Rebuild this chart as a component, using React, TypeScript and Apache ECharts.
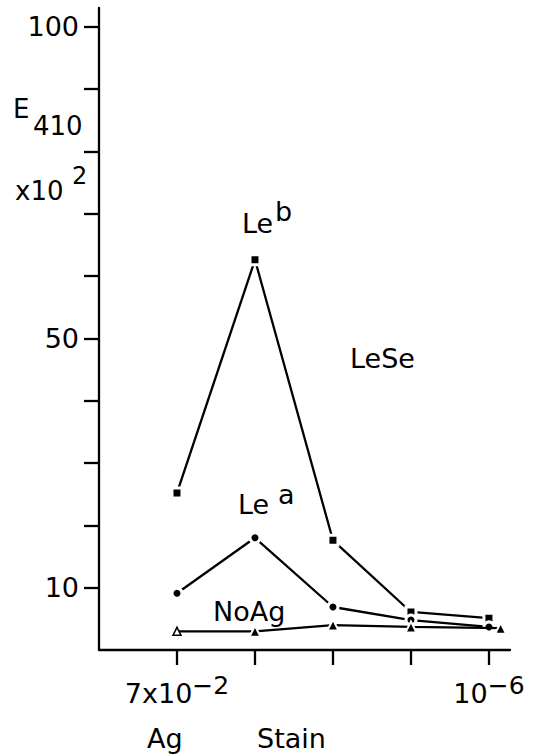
import React, { useEffect, useRef } from "react";
import * as echarts from "echarts";

// ---- data ----
const dilutionIndex = [1, 2, 3, 4, 5];
const lebValues = [25.2, 62.6, 17.6, 6.1, 5.1];
const leaValues = [9.1, 18.0, 6.9, 4.8, 3.7];
const noAgIndex = [1, 2, 3, 4, 5.15];
const noAgValues = [3.0, 3.0, 4.0, 3.7, 3.5];
const yTickValues = [10, 20, 30, 40, 50, 60, 70, 80, 90, 100];
const yLabelValues = [10, 50, 100];
const xTickValues = [1, 2, 3, 4, 5];
const xLabelValues = [1, 5];
const xLabelBase = ["7x10", "10"];
const xLabelExp = ["\u22122", "\u22126"];

const FONT = "'DejaVu Sans', 'Liberation Sans', Arial, sans-serif";

function pairs(xs: number[], ys: number[]) {
  return xs.map((x, i) => [x, ys[i]]);
}

function txt(text: string, x: number, y: number, size = 27) {
  return {
    type: "text",
    x,
    y,
    style: {
      text,
      fill: "#000",
      font: `${size}px ${FONT}`,
      fontSize: size,
      fontFamily: FONT,
      textAlign: "left",
      textVerticalAlign: "middle",
    },
  };
}

export default function App() {
  const ref = useRef<HTMLDivElement>(null);
  useEffect(() => {
    if (!ref.current) return;
    const chart = echarts.init(ref.current, null, { renderer: "svg" });
    const black = "#000";
    const lw = 2.3;
    const option: any = {
      animation: false,
      backgroundColor: "#fff",
      textStyle: { fontFamily: FONT },
      grid: {
        left: 99,
        top: 8,
        right: 31,
        bottom: 105,
        containLabel: false,
        outerBoundsMode: "none",
      },
      xAxis: {
        type: "value",
        min: 0,
        max: 5.27,
        splitLine: { show: false },
        axisLine: { show: true, onZero: false, lineStyle: { color: black, width: lw } },
        axisTick: {
          show: true,
          customValues: xTickValues,
          length: 15,
          lineStyle: { color: black, width: lw },
        },
        axisLabel: {
          show: true,
          customValues: xLabelValues,
          margin: 23,
          formatter: (v: number) => {
            const i = xLabelValues.indexOf(v);
            if (i < 0) return "";
            return `{m|${xLabelBase[i]}}{s|${xLabelExp[i]}}`;
          },
          rich: {
            m: { fontSize: 27, fontFamily: FONT, color: black, lineHeight: 40 },
            s: {
              fontSize: 25,
              fontFamily: FONT,
              color: black,
              lineHeight: 20,
              verticalAlign: "top",
            },
          },
        },
      },
      yAxis: {
        type: "value",
        min: 0,
        max: 103,
        splitLine: { show: false },
        axisLine: { show: true, onZero: false, lineStyle: { color: black, width: lw } },
        axisTick: {
          show: true,
          customValues: yTickValues,
          length: 15,
          lineStyle: { color: black, width: lw },
        },
        axisLabel: {
          show: true,
          customValues: yLabelValues,
          margin: 20,
          fontSize: 27,
          fontFamily: FONT,
          color: black,
        },
      },
      series: [
        {
          name: "Leb",
          type: "line",
          data: pairs(dilutionIndex, lebValues),
          symbol: "rect",
          symbolSize: 10,
          lineStyle: { color: black, width: lw },
          itemStyle: { color: black, borderColor: "#fff", borderWidth: 3 },
          z: 3,
        },
        {
          name: "Lea",
          type: "line",
          data: pairs(dilutionIndex, leaValues),
          symbol: "circle",
          symbolSize: 10,
          lineStyle: { color: black, width: lw },
          itemStyle: { color: black, borderColor: "#fff", borderWidth: 3 },
          z: 4,
        },
        {
          name: "NoAg",
          type: "line",
          data: pairs(noAgIndex, noAgValues).map((p, i) =>
            i === 0
              ? {
                  value: p,
                  symbolSize: 8,
                  itemStyle: { color: "#fff", borderColor: black, borderWidth: 1.5 },
                }
              : { value: p }
          ),
          symbol: "triangle",
          symbolSize: 11,
          lineStyle: { color: black, width: lw },
          itemStyle: { color: black, borderColor: "#fff", borderWidth: 2 },
          z: 5,
        },
      ],
      graphic: [
        txt("E", 13, 109, 26),
        txt("410", 33, 126, 26),
        txt("x10", 15, 191, 26),
        txt("2", 72, 176, 24),
        txt("Le", 242, 223, 27),
        txt("b", 275, 211, 27),
        txt("Le", 238, 504, 27),
        txt("a", 278, 494, 27),
        txt("NoAg", 213, 611, 27),
        txt("LeSe", 350, 358, 27),
        txt("Ag", 147, 738, 27),
        txt("Stain", 257, 738, 27),
      ],
    };
    chart.setOption(option);
    return () => chart.dispose();
  }, []);
  return (
    <div
      ref={ref}
      style={{ position: "fixed", left: 0, top: 0, width: 541, height: 755, background: "#fff" }}
    />
  );
}
